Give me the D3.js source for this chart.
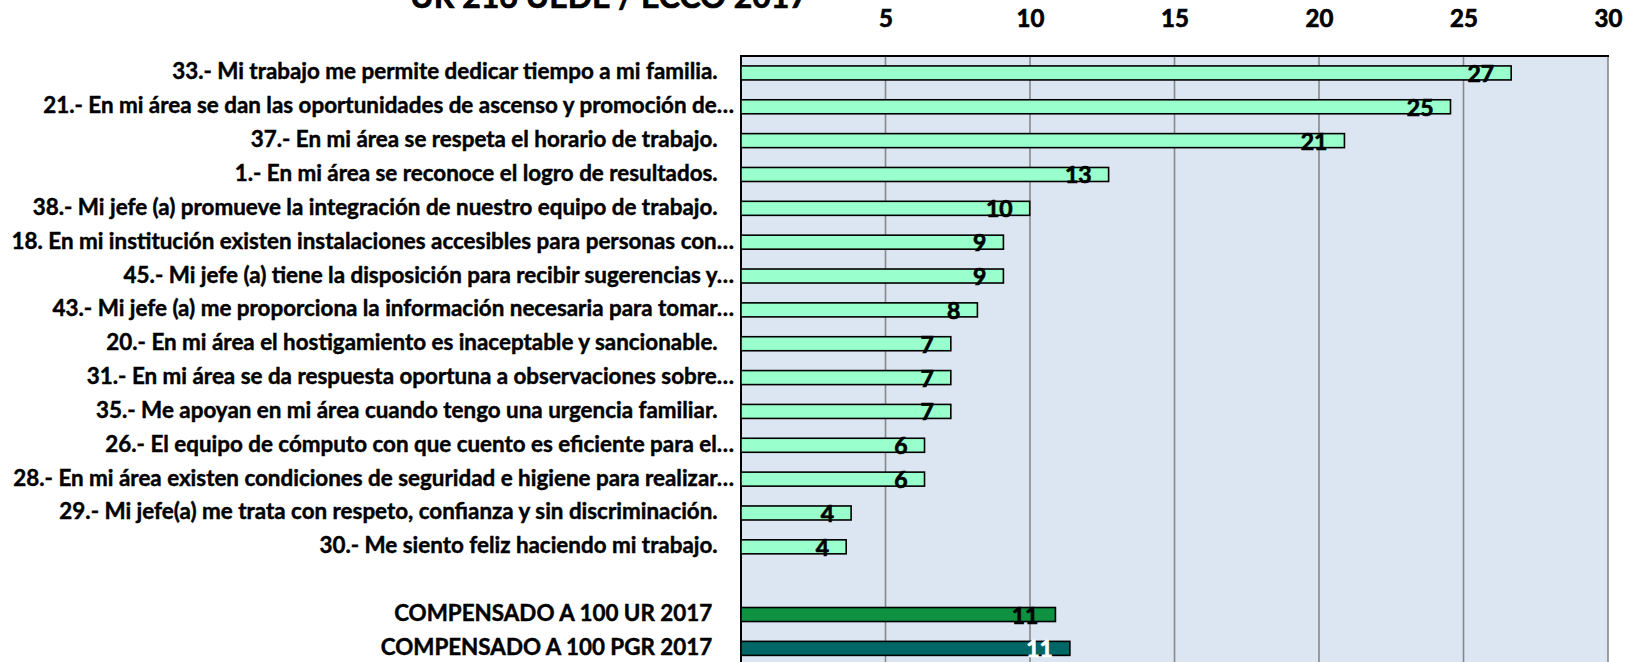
<!DOCTYPE html>
<html>
<head>
<meta charset="utf-8">
<script src="https://cdn.jsdelivr.net/npm/d3@7.9.0/dist/d3.min.js"></script>
<style>
  html, body { margin: 0; padding: 0; background: #fff; }
  svg { display: block; font-family: Lato, "Open Sans", sans-serif; font-weight: bold; }
  .cat { white-space: pre; }
</style>
</head>
<body>
<svg id="chart" width="1642" height="662"></svg>
<script>
// --- data ---
const title = 'UR 216 UEDE / ECCO 2017';

const questions = [
  '33.- Mi trabajo me permite dedicar tiempo a mi familia.   ',
  '21.- En mi área se dan las oportunidades de ascenso y promoción de…',
  '37.- En mi área se respeta el horario de trabajo.   ',
  '1.- En mi área se reconoce el logro de resultados.   ',
  '38.- Mi jefe (a) promueve la integración de nuestro equipo de trabajo.   ',
  '18. En mi institución existen instalaciones accesibles para personas con…',
  '45.- Mi jefe (a) tiene la disposición para recibir sugerencias y…',
  '43.- Mi jefe (a) me proporciona la información necesaria para tomar…',
  '20.- En mi área el hostigamiento es inaceptable y sancionable.   ',
  '31.- En mi área se da respuesta oportuna a observaciones sobre…',
  '35.- Me apoyan en mi área cuando tengo una urgencia familiar.   ',
  '26.- El equipo de cómputo con que cuento es eficiente para el…',
  '28.- En mi área existen condiciones de seguridad e higiene para realizar…',
  '29.- Mi jefe(a) me trata con respeto, confianza y sin discriminación.   ',
  '30.- Me siento feliz haciendo mi trabajo.   '
];
const questionValues = [26.65, 24.55, 20.88, 12.72, 9.99, 9.08, 9.08, 8.18, 7.26, 7.26, 7.26, 6.35, 6.35, 3.81, 3.64];

const compLabels = ['COMPENSADO A 100 UR 2017    ', 'COMPENSADO A 100 PGR 2017    '];
const compValues = [10.88, 11.38];
const compColors = ['#0f9142', '#006666'];
const compLabelColors = ['#000', '#fff'];

const tickValues = [5, 10, 15, 20, 25, 30];

// --- layout ---
const svg = d3.select('#chart');
const plot = { left: 741, right: 1608, top: 56, step: 33.85 };
const gap = ' ';
const domain = [...questions, gap, ...compLabels];
plot.bottom = plot.top + plot.step * domain.length;

const x = d3.scaleLinear().domain([0, 30]).range([plot.left, plot.right]);
const y = d3.scaleBand().domain(domain).range([plot.top, plot.bottom])
  .paddingInner(0.586).paddingOuter(0.293);

// rows as one table built from the arrays
const rows = questions.map((q, i) => ({ label: q, value: questionValues[i], fill: '#99ffcc', text: '#000' }))
  .concat(compLabels.map((c, i) => ({ label: c, value: compValues[i], fill: compColors[i], text: compLabelColors[i] })));

// plot background
svg.append('rect')
  .attr('x', plot.left).attr('y', plot.top)
  .attr('width', plot.right - plot.left).attr('height', plot.bottom - plot.top)
  .attr('fill', '#dce6f2');

// gridlines
svg.append('g')
  .selectAll('line')
  .data(tickValues)
  .join('line')
  .attr('x1', d => x(d)).attr('x2', d => x(d))
  .attr('y1', plot.top).attr('y2', plot.bottom)
  .attr('stroke', '#888').attr('stroke-width', 1.6);

// top border and left axis line
svg.append('line')
  .attr('x1', plot.left - 1).attr('x2', plot.right + 1)
  .attr('y1', plot.top).attr('y2', plot.top)
  .attr('stroke', '#000').attr('stroke-width', 2);
svg.append('line')
  .attr('x1', plot.left).attr('x2', plot.left)
  .attr('y1', plot.top).attr('y2', plot.bottom)
  .attr('stroke', '#000').attr('stroke-width', 2);

// top axis tick labels (no "0")
const axis = d3.axisTop(x).tickValues(tickValues).tickSize(0).tickPadding(0);
const axisG = svg.append('g').attr('transform', `translate(0,${plot.top})`).call(axis);
axisG.select('.domain').remove();
axisG.selectAll('text')
  .attr('y', 27 - plot.top).attr('dy', 0)
  .attr('font-family', 'Lato, sans-serif').attr('font-weight', 'bold')
  .attr('font-size', 24).attr('fill', '#000')
  .attr('stroke', '#000').attr('stroke-width', 0.7);

// bars
svg.append('g')
  .selectAll('rect')
  .data(rows)
  .join('rect')
  .attr('x', x(0))
  .attr('y', d => y(d.label))
  .attr('width', d => x(d.value) - x(0))
  .attr('height', y.bandwidth())
  .attr('fill', d => d.fill)
  .attr('stroke', '#000').attr('stroke-width', 1.6);

// value labels, inside end
const fmt = d3.format('.0f');
svg.append('g')
  .selectAll('text')
  .data(rows)
  .join('text')
  .attr('x', d => x(d.value) - 17)
  .attr('y', d => y(d.label) + y.bandwidth() / 2 + 9)
  .attr('text-anchor', 'end')
  .attr('font-size', 23)
  .attr('fill', d => d.text)
  .attr('stroke', d => d.text).attr('stroke-width', 0.7)
  .text(d => fmt(d.value));

// category labels, sized so the longest one matches the reference width
const catG = svg.append('g');
const cats = catG.selectAll('text')
  .data(rows)
  .join('text')
  .attr('class', 'cat')
  .attr('x', plot.left - 7)
  .attr('y', d => y(d.label) + y.bandwidth() / 2 + 6.5)
  .attr('text-anchor', 'end')
  .attr('font-size', 20)
  .attr('fill', '#000')
  .attr('stroke', '#000').attr('stroke-width', 0.45)
  .text(d => d.label);
const longest = cats.filter((d, i) => i === 5).node().getComputedTextLength();
const catSize = 20 * 723 / longest;
cats.attr('font-size', catSize);

// title (cut off at the top like the reference)
const t = svg.append('text')
  .attr('x', 609).attr('y', 8)
  .attr('text-anchor', 'middle')
  .attr('font-size', 28)
  .attr('stroke', '#000').attr('stroke-width', 0.7)
  .text(title);
t.attr('font-size', 28 * 398 / t.node().getComputedTextLength());
</script>
</body>
</html>
